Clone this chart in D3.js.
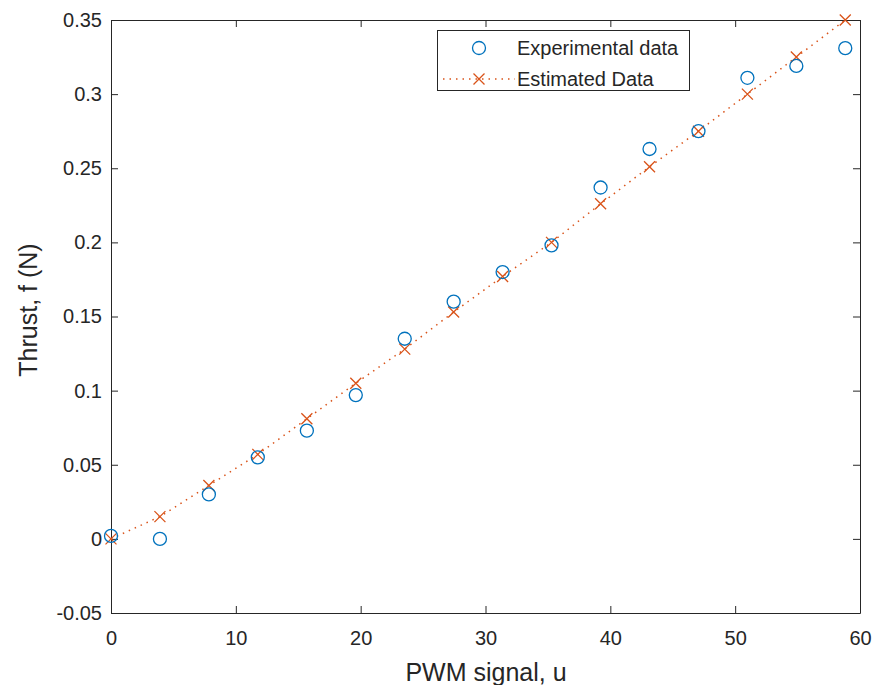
<!DOCTYPE html>
<html>
<head>
<meta charset="utf-8">
<script src="https://cdn.jsdelivr.net/npm/d3@7"></script>
<style>
  body { margin: 0; background: #fff; }
  text { font-family: "Liberation Sans", Arial, sans-serif; fill: #262626; }
</style>
</head>
<body>
<script>
// PWM signal values (x)
var pwm = [0, 3.92, 7.84, 11.76, 15.69, 19.61, 23.53, 27.45, 31.37, 35.29, 39.22, 43.14, 47.06, 50.98, 54.9, 58.82];
// measured thrust
var experimental = [0.002, 0.0, 0.030, 0.055, 0.073, 0.097, 0.135, 0.160, 0.180, 0.198, 0.237, 0.263, 0.275, 0.311, 0.319, 0.331];
// fitted model
var estimated = [0.0, 0.015, 0.036, 0.057, 0.081, 0.105, 0.128, 0.153, 0.177, 0.200, 0.226, 0.251, 0.275, 0.300, 0.325, 0.350];

var xTicks = [0, 10, 20, 30, 40, 50, 60];
var yTicks = [-0.05, 0, 0.05, 0.1, 0.15, 0.2, 0.25, 0.3, 0.35];

var W = 874, H = 685;
var m = {left: 111, top: 20, right: 860, bottom: 613};
var blue = "#0072BD", orange = "#D95319", axisCol = "#262626";

var svg = d3.select("body").append("svg")
    .attr("width", W)
    .attr("height", H);

var x = d3.scaleLinear().domain([0, 60]).range([m.left, m.right]);
var y = d3.scaleLinear().domain([-0.05, 0.35]).range([m.bottom, m.top]);

// axes box with inward ticks on all sides
function styleAxis(g) {
  g.selectAll("path").attr("stroke", axisCol).attr("stroke-width", 1);
  g.selectAll("line").attr("stroke", axisCol).attr("stroke-width", 1);
}

svg.append("g")
    .attr("transform", "translate(0," + m.bottom + ")")
    .call(d3.axisBottom(x).tickValues(xTicks).tickSizeInner(-7).tickSizeOuter(0).tickPadding(18))
    .call(styleAxis)
    .selectAll("text").attr("font-size", 20).attr("fill", axisCol)
    .attr("font-family", "Liberation Sans, Arial, sans-serif");

svg.append("g")
    .attr("transform", "translate(0," + m.top + ")")
    .call(d3.axisTop(x).tickValues(xTicks).tickSizeInner(-7).tickSizeOuter(0).tickFormat(""))
    .call(styleAxis);

svg.append("g")
    .attr("transform", "translate(" + m.left + ",0)")
    .call(d3.axisLeft(y).tickValues(yTicks).tickSizeInner(-7).tickSizeOuter(0).tickPadding(9)
      .tickFormat(function(d) { return String(+d.toFixed(2)); }))
    .call(styleAxis)
    .selectAll("text").attr("font-size", 20).attr("fill", axisCol)
    .attr("font-family", "Liberation Sans, Arial, sans-serif");

svg.append("g")
    .attr("transform", "translate(" + m.right + ",0)")
    .call(d3.axisRight(y).tickValues(yTicks).tickSizeInner(-7).tickSizeOuter(0).tickFormat(""))
    .call(styleAxis);

// axis labels
svg.append("text")
    .attr("x", 486)
    .attr("y", 681)
    .attr("text-anchor", "middle")
    .attr("font-size", 25)
    .text("PWM signal, u");

svg.append("text")
    .attr("transform", "translate(37,310) rotate(-90)")
    .attr("text-anchor", "middle")
    .attr("font-size", 25)
    .text("Thrust, f (N)");

// estimated dotted line
var line = d3.line()
    .x(function(d, i) { return x(pwm[i]); })
    .y(function(d) { return y(d); });

svg.append("path")
    .datum(estimated)
    .attr("d", line)
    .attr("fill", "none")
    .attr("stroke", orange)
    .attr("stroke-width", 1.5)
    .attr("stroke-dasharray", "1.5,5");

function cross(g, cx, cy, s) {
  g.append("path")
    .attr("d", "M" + (cx - s) + "," + (cy - s) + "L" + (cx + s) + "," + (cy + s) +
               "M" + (cx - s) + "," + (cy + s) + "L" + (cx + s) + "," + (cy - s))
    .attr("stroke", orange)
    .attr("stroke-width", 1.3)
    .attr("fill", "none");
}

var marks = svg.append("g");
estimated.forEach(function(d, i) { cross(marks, x(pwm[i]), y(d), 5.5); });

svg.append("g").selectAll("circle")
    .data(experimental)
    .enter().append("circle")
      .attr("cx", function(d, i) { return x(pwm[i]); })
      .attr("cy", function(d) { return y(d); })
      .attr("r", 6.5)
      .attr("fill", "none")
      .attr("stroke", blue)
      .attr("stroke-width", 1.3);

// legend
var leg = svg.append("g");
leg.append("rect")
    .attr("x", 437.5).attr("y", 30.5)
    .attr("width", 252).attr("height", 60)
    .attr("fill", "#fff")
    .attr("stroke", axisCol)
    .attr("stroke-width", 1);

leg.append("circle")
    .attr("cx", 479).attr("cy", 48).attr("r", 6.5)
    .attr("fill", "none").attr("stroke", blue).attr("stroke-width", 1.3);

leg.append("line")
    .attr("x1", 443).attr("x2", 515).attr("y1", 79).attr("y2", 79)
    .attr("stroke", orange).attr("stroke-width", 1.5)
    .attr("stroke-dasharray", "1.5,5");
cross(leg, 479, 79, 5.5);

leg.append("text").attr("x", 517).attr("y", 55).attr("font-size", 20).text("Experimental data");
leg.append("text").attr("x", 517).attr("y", 86).attr("font-size", 20).text("Estimated Data");
</script>
</body>
</html>
